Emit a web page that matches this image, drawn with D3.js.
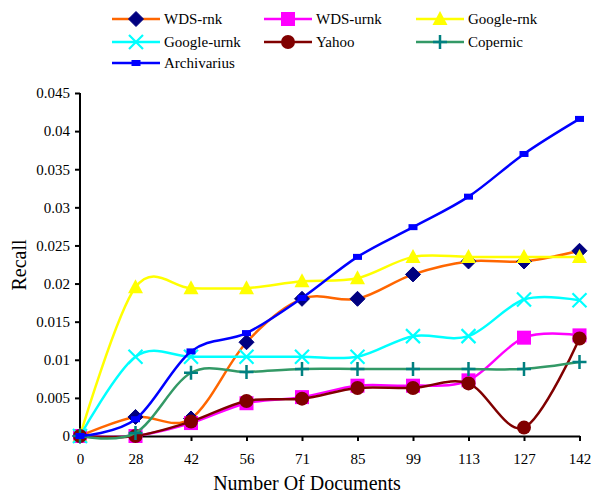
<!DOCTYPE html>
<html><head><meta charset="utf-8">
<script src="https://cdn.jsdelivr.net/npm/d3@7"></script>
<style>body{margin:0;background:#fff}svg{display:block}</style>
</head><body>
<script>
const categories = ["0","28","42","56","71","85","99","113","127","142"];
const yTicks = [0,0.005,0.01,0.015,0.02,0.025,0.03,0.035,0.04,0.045];
const wdsRnk     = [0,0.0025,0.0023,0.0123,0.0180,0.0180,0.0212,0.0229,0.0229,0.0243];
const wdsUrnk    = [0,0.0000,0.0017,0.0043,0.0051,0.0066,0.0066,0.0073,0.0129,0.0132];
const googleRnk  = [0,0.0195,0.0194,0.0194,0.0203,0.0207,0.0235,0.0235,0.0235,0.0235];
const googleUrnk = [0,0.0104,0.0104,0.0104,0.0104,0.0104,0.0131,0.0131,0.0179,0.0178];
const yahoo      = [0,0.0000,0.0019,0.0046,0.0049,0.0063,0.0063,0.0069,0.0011,0.0128];
const copernic   = [0,0.0004,0.0083,0.0084,0.0088,0.0088,0.0088,0.0088,0.0088,0.0097];
const archivarius= [0,0.0022,0.0111,0.0135,0.0181,0.0235,0.0274,0.0314,0.0370,0.0416];
const seriesNames = ["WDS-rnk","WDS-urnk","Google-rnk","Google-urnk","Yahoo","Copernic","Archivarius"];

const series = [
  {name:seriesNames[0], values:wdsRnk, line:"#FF6600", marker:"diamond", fill:"#000080", mstroke:"#000080"},
  {name:seriesNames[1], values:wdsUrnk, line:"#FF00FF", marker:"square", fill:"#FF00FF", mstroke:"#FF00FF"},
  {name:seriesNames[2], values:googleRnk, line:"#FFFF00", marker:"triangle", fill:"#FFFF00", mstroke:"#FFFF00"},
  {name:seriesNames[3], values:googleUrnk, line:"#00FFFF", marker:"x", fill:"none", mstroke:"#00FFFF"},
  {name:seriesNames[4], values:yahoo, line:"#800000", marker:"circle", fill:"#800000", mstroke:"#800000"},
  {name:seriesNames[5], values:copernic, line:"#339966", marker:"plus", fill:"none", mstroke:"#008080"},
  {name:seriesNames[6], values:archivarius, line:"#0000FF", marker:"rect", fill:"#0000FF", mstroke:"#0000FF"}
];

const W=592,H=493;
const svg=d3.select("body").append("svg").attr("width",W).attr("height",H);
const x=d3.scalePoint().domain(categories).range([80,579.5]);
const y=d3.scaleLinear().domain([0,0.045]).range([436,93]);
const font="'Liberation Serif','Times New Roman',serif";

function drawMarker(g,type,fill,stroke){
  if(type==="diamond") g.append("path").attr("d","M0,-7.5L7.5,0L0,7.5L-7.5,0Z").attr("fill",fill).attr("stroke",stroke);
  else if(type==="square") g.append("rect").attr("x",-7).attr("y",-7).attr("width",14).attr("height",14).attr("fill",fill);
  else if(type==="triangle") g.append("path").attr("d","M0,-8L7.5,6L-7.5,6Z").attr("fill",fill);
  else if(type==="circle") g.append("circle").attr("r",7).attr("fill",fill);
  else if(type==="x") g.append("path").attr("d","M-7,-7L7,7M-7,7L7,-7").attr("stroke",stroke).attr("stroke-width",2.2).attr("fill","none");
  else if(type==="plus") g.append("path").attr("d","M-7,0L7,0M0,-7L0,7").attr("stroke",stroke).attr("stroke-width",2.5).attr("fill","none");
  else if(type==="rect") g.append("rect").attr("x",-4.5).attr("y",-3).attr("width",9).attr("height",6).attr("fill",fill);
}

// axes
const yAxis=d3.axisLeft(y).tickValues(yTicks).tickSize(5).tickSizeOuter(0).tickPadding(5)
  .tickFormat(d=>String(+d.toFixed(3)));
const gy=svg.append("g").attr("transform","translate(80,0)").call(yAxis);
const xAxis=d3.axisBottom(x).tickSize(5).tickSizeOuter(0).tickPadding(12);
const gx=svg.append("g").attr("transform","translate(0,436)").call(xAxis);
[gx,gy].forEach(g=>{
  g.select(".domain").attr("stroke","#000").attr("stroke-width",2);
  g.selectAll(".tick line").attr("stroke","#000").attr("stroke-width",2);
  g.selectAll("text").attr("font-family",font).attr("font-size",15).attr("fill","#000");
});
gy.select(".domain").attr("d","M0,93V437");

// titles
svg.append("text").attr("x",307).attr("y",490).attr("text-anchor","middle")
  .attr("font-family",font).attr("font-size",20).text("Number Of Documents");
svg.append("text").attr("transform","translate(26,265) rotate(-90)").attr("text-anchor","middle")
  .attr("font-family",font).attr("font-size",20).text("Recall");

// lines
const line=d3.line().x((d,i)=>x(categories[i])).y(d=>y(d)).curve(d3.curveCardinal.tension(0));
series.forEach(s=>{
  svg.append("path").datum(s.values).attr("d",line).attr("fill","none")
    .attr("stroke",s.line).attr("stroke-width",2.5);
  s.values.forEach((v,i)=>{
    const g=svg.append("g").attr("transform",`translate(${x(categories[i])},${y(v)})`);
    drawMarker(g,s.marker,s.fill,s.mstroke);
  });
});

// legend
const cols=[112,264,416], rows=[19,42,63];
series.forEach((s,i)=>{
  const cx=cols[i%3], cy=rows[Math.floor(i/3)];
  const g=svg.append("g");
  g.append("line").attr("x1",cx).attr("x2",cx+48).attr("y1",cy).attr("y2",cy)
    .attr("stroke",s.line).attr("stroke-width",2.5);
  const m=g.append("g").attr("transform",`translate(${cx+24},${cy})`);
  drawMarker(m,s.marker,s.fill,s.mstroke);
  g.append("text").attr("x",cx+52).attr("y",cy+5).attr("font-family",font).attr("font-size",15).text(s.name);
});
</script>
</body></html>
